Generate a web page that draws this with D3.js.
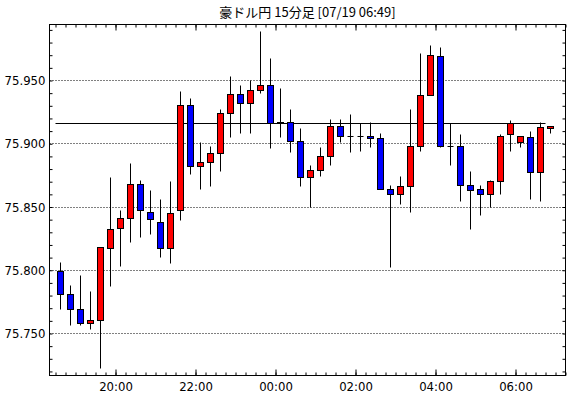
<!DOCTYPE html>
<html>
<head>
<meta charset="utf-8">
<script src="https://cdn.jsdelivr.net/npm/d3@7"></script>
<style>
  body { margin: 0; background: #fff; }
  svg { display: block; }
</style>
</head>
<body>
<svg id="chart"></svg>
<script>
var title = '豪ドル円 15分足 [07/19 06:49]';

var times = ['18:30', '18:45', '19:00', '19:15', '19:30', '19:45', '20:00', '20:15', '20:30', '20:45',
             '21:00', '21:15', '21:30', '21:45', '22:00', '22:15', '22:30', '22:45', '23:00', '23:15',
             '23:30', '23:45', '00:00', '00:15', '00:30', '00:45', '01:00', '01:15', '01:30', '01:45',
             '02:00', '02:15', '02:30', '02:45', '03:00', '03:15', '03:30', '03:45', '04:00', '04:15',
             '04:30', '04:45', '05:00', '05:15', '05:30', '05:45', '06:00', '06:15', '06:30', '06:45'];

var opens = [75.799, 75.781, 75.769, 75.758, 75.760, 75.817, 75.833, 75.841, 75.868, 75.846,
             75.838, 75.817, 75.847, 75.930, 75.882, 75.885, 75.892, 75.924, 75.939, 75.932,
             75.942, 75.946, 75.916, 75.917, 75.902, 75.873, 75.879, 75.890, 75.914, 75.906,
             75.906, 75.906, 75.904, 75.864, 75.860, 75.866, 75.898, 75.938, 75.969, 75.898,
             75.898, 75.867, 75.864, 75.860, 75.870, 75.907, 75.901, 75.905, 75.877, 75.912];

var highs = [75.806, 75.788, 75.796, 75.783, 75.818, 75.873, 75.847, 75.884, 75.871, 75.863,
             75.856, 75.870, 75.941, 75.936, 75.901, 75.898, 75.927, 75.953, 75.946, 75.950,
             75.989, 75.967, 75.944, 75.927, 75.912, 75.883, 75.897, 75.919, 75.919, 75.923,
             75.916, 75.917, 75.908, 75.867, 75.874, 75.927, 75.971, 75.978, 75.976, 75.916,
             75.907, 75.878, 75.867, 75.871, 75.907, 75.918, 75.906, 75.910, 75.917, 75.914];

var lows = [75.769, 75.756, 75.756, 75.753, 75.722, 75.787, 75.803, 75.822, 75.826, 75.828,
            75.810, 75.805, 75.839, 75.876, 75.864, 75.866, 75.878, 75.905, 75.908, 75.908,
            75.940, 75.896, 75.905, 75.893, 75.866, 75.850, 75.874, 75.883, 75.901, 75.893,
            75.894, 75.897, 75.864, 75.802, 75.852, 75.846, 75.894, 75.938, 75.897, 75.883,
            75.854, 75.832, 75.843, 75.850, 75.860, 75.894, 75.897, 75.856, 75.854, 75.908];

var closes = [75.781, 75.769, 75.758, 75.760, 75.818, 75.832, 75.841, 75.868, 75.847, 75.840,
              75.817, 75.845, 75.930, 75.882, 75.885, 75.892, 75.924, 75.939, 75.932, 75.942,
              75.946, 75.916, 75.917, 75.902, 75.873, 75.879, 75.890, 75.914, 75.906, 75.906,
              75.906, 75.904, 75.864, 75.860, 75.866, 75.898, 75.938, 75.970, 75.898, 75.898,
              75.867, 75.863, 75.860, 75.870, 75.906, 75.916, 75.906, 75.877, 75.913, 75.914];

var currentPrice = 75.916;
var priceLabels = [75.750, 75.800, 75.850, 75.900, 75.950];

var width = 570;
var height = 398;
var plotLeft = 49.5, plotRight = 565.5, plotTop = 24.5, plotBottom = 375.5;
var axisFont = '"Liberation Sans Narrow", "Arial Narrow", "DejaVu Sans Condensed", sans-serif';

// times before noon belong to the next day
function toDate(s) {
  var p = s.split(':').map(Number);
  var day = p[0] < 12 ? 19 : 18;
  return new Date(2024, 6, day, p[0], p[1]);
}

var candles = times.map(function(t, i) {
  return { t: toDate(t), o: opens[i], h: highs[i], l: lows[i], c: closes[i] };
});

var svg = d3.select('#chart')
  .attr('width', width)
  .attr('height', height);

var x = d3.scaleTime()
  .domain([new Date(2024, 6, 18, 18, 21), new Date(2024, 6, 19, 7, 15)])
  .range([plotLeft, plotRight]);

var y = d3.scaleLinear()
  .domain([75.75, 75.95])
  .range([333.5, 80.5]);

var half = 7.5 * 60 * 1000;
function cx(d) { return Math.round(x(new Date(+d.t + half)) - 0.5) + 0.5; }
function py(v) { return Math.round(y(v) - 0.5) + 0.5; }

svg.append('text')
  .attr('x', (plotLeft + plotRight) / 2)
  .attr('y', 17)
  .attr('text-anchor', 'middle')
  .attr('font-family', '"Noto Sans CJK JP", sans-serif')
  .attr('font-size', 13)
  .text(title);

// dotted grid
svg.append('g')
  .selectAll('line')
  .data(priceLabels)
  .enter().append('line')
  .attr('x1', plotLeft)
  .attr('x2', plotRight)
  .attr('y1', py)
  .attr('y2', py)
  .attr('stroke', '#000')
  .attr('stroke-dasharray', '1,2');

var yMinor = y.copy().domain([y.invert(plotBottom), y.invert(plotTop)]).range([plotBottom, plotTop]);

svg.append('g')
  .attr('transform', 'translate(' + plotLeft + ',0)')
  .call(d3.axisLeft(yMinor).ticks(25).tickSize(-3).tickFormat(''))
  .call(function(g) { g.select('.domain').remove(); });

svg.append('g')
  .attr('transform', 'translate(' + plotRight + ',0)')
  .call(d3.axisRight(yMinor).ticks(25).tickSize(-3).tickFormat(''))
  .call(function(g) { g.select('.domain').remove(); });

svg.append('g')
  .attr('transform', 'translate(' + plotLeft + ',0)')
  .call(d3.axisLeft(y).tickValues(priceLabels).tickSize(0).tickPadding(4).tickFormat(d3.format('.3f')))
  .call(function(g) {
    g.select('.domain').remove();
    g.selectAll('text').attr('font-family', axisFont).attr('font-size', 13).attr('fill', '#000');
  });

function timeAxes(axis, pos, labels) {
  svg.append('g')
    .attr('transform', 'translate(0,' + pos + ')')
    .call(axis(x).ticks(d3.timeMinute.every(15)).tickSize(-3).tickFormat(''))
    .call(function(g) { g.select('.domain').remove(); });

  svg.append('g')
    .attr('transform', 'translate(0,' + pos + ')')
    .call(axis(x).ticks(d3.timeHour.every(2)).tickSize(-6).tickPadding(6)
      .tickFormat(labels ? d3.timeFormat('%H:%M') : ''))
    .call(function(g) {
      g.select('.domain').remove();
      g.selectAll('text').attr('font-family', axisFont).attr('font-size', 13).attr('fill', '#000');
    });
}

timeAxes(d3.axisBottom, plotBottom, true);
timeAxes(d3.axisTop, plotTop, false);

svg.selectAll('.tick line').attr('stroke', '#000');

svg.append('line')
  .attr('x1', x(candles[0].t))
  .attr('x2', x(candles[candles.length - 1].t))
  .attr('y1', py(currentPrice))
  .attr('y2', py(currentPrice))
  .attr('stroke', '#000');

var candle = svg.append('g')
  .selectAll('g')
  .data(candles)
  .enter().append('g');

candle.append('line')
  .attr('x1', cx)
  .attr('x2', cx)
  .attr('y1', function(d) { return py(d.h); })
  .attr('y2', function(d) { return py(d.l); })
  .attr('stroke', '#000');

candle.filter(function(d) { return d.o !== d.c; })
  .append('rect')
  .attr('x', function(d) { return cx(d) - 3; })
  .attr('width', 6)
  .attr('y', function(d) { return py(Math.max(d.o, d.c)); })
  .attr('height', function(d) { return Math.max(1, py(Math.min(d.o, d.c)) - py(Math.max(d.o, d.c))); })
  .attr('fill', function(d) { return d.c > d.o ? '#ff0000' : '#0000ff'; })
  .attr('stroke', '#000');

candle.filter(function(d) { return d.o === d.c; })
  .append('line')
  .attr('x1', function(d) { return cx(d) - 3; })
  .attr('x2', function(d) { return cx(d) + 3; })
  .attr('y1', function(d) { return py(d.o); })
  .attr('y2', function(d) { return py(d.o); })
  .attr('stroke', '#000');

svg.append('rect')
  .attr('x', plotLeft)
  .attr('y', plotTop)
  .attr('width', plotRight - plotLeft)
  .attr('height', plotBottom - plotTop)
  .attr('fill', 'none')
  .attr('stroke', '#000');
</script>
</body>
</html>
